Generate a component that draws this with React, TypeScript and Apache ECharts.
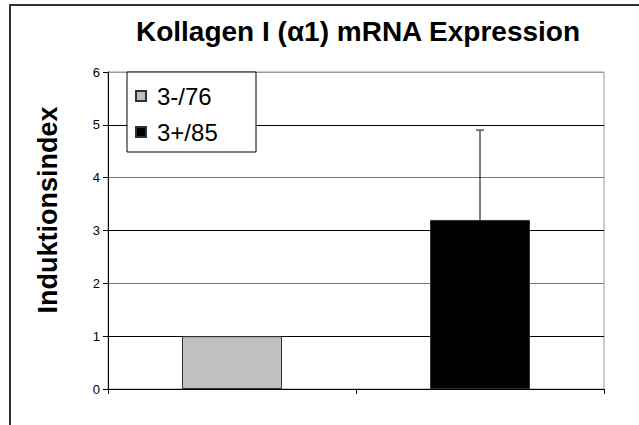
import React, { useEffect, useRef } from "react";
import * as echarts from "echarts";

const categories = ["3-/76", "3+/85"];
const seriesNames = ["3-/76", "3+/85"];
const values = [1.0, 3.2];
const errorsUp = [0, 1.7];
const yTicks = { min: 0, max: 6, interval: 1 };
const titleText = "Kollagen I (α1) mRNA Expression";
const yName = "Induktionsindex";

const FONT = "'Liberation Sans', Arial, sans-serif";

export default function App() {
  const ref = useRef<HTMLDivElement>(null);
  useEffect(() => {
    if (!ref.current) return;
    const chart = echarts.init(ref.current, undefined, { renderer: "svg" });
    const colors = ["#c0c0c0", "#000000"];
    const barSeries = seriesNames.map((name, i) => ({
      name,
      type: "bar",
      stack: "s",
      barWidth: 100,
      data: values.map((v, j) => (j === i ? v : "-")),
      itemStyle: { color: colors[i], borderColor: "#333", borderWidth: 1 },
      z: 3,
    }));
    const errSeries = {
      type: "custom",
      name: "err",
      z: 4,
      data: values.map((v, j) => [j, v, v + errorsUp[j]]),
      renderItem: (params: any, api: any) => {
        const j = api.value(0);
        if (errorsUp[j] <= 0) return null;
        const p0 = api.coord([j, api.value(1)]);
        const p1 = api.coord([j, api.value(2)]);
        return {
          type: "group",
          children: [
            {
              type: "line",
              shape: { x1: p0[0], y1: p0[1], x2: p1[0], y2: p1[1] },
              style: { stroke: "#000", lineWidth: 1 },
            },
            {
              type: "line",
              shape: { x1: p1[0] - 4, y1: p1[1], x2: p1[0] + 4, y2: p1[1] },
              style: { stroke: "#555", lineWidth: 1.5 },
            },
          ],
        };
      },
    };
    chart.setOption({
      animation: false,
      backgroundColor: "#fff",
      textStyle: { fontFamily: FONT },
      grid: { left: 108, right: 35, top: 72, bottom: 36, show: true, borderColor: "#999", borderWidth: 1, backgroundColor: "transparent" },
      legend: {
        orient: "vertical",
        left: 135,
        top: 84,
        padding: 0,
        z: 10,
        itemWidth: 10,
        itemHeight: 10,
        itemGap: 12,
        icon: "rect",
        data: seriesNames,
        textStyle: { fontSize: 24, color: "#000", lineHeight: 24, fontFamily: FONT, padding: [0, 0, 0, 6] },
      },
      graphic: [
        {
          type: "rect",
          shape: { x: 10, y: 5, width: 700, height: 500 },
          style: { fill: "none", stroke: "#333", lineWidth: 2 },
          z: 100,
        },
        {
          type: "rect",
          shape: { x: 127, y: 72, width: 129, height: 80 },
          style: { fill: "#fff", stroke: "#000", lineWidth: 1 },
          z: 5,
        },
        {
          type: "text",
          x: 358,
          y: 31,
          style: {
            text: titleText,
            font: `bold 28px ${FONT}`,
            fill: "#000",
            textAlign: "center",
            textVerticalAlign: "middle",
          },
          z: 10,
        },
        {
          type: "text",
          x: 48,
          y: 210,
          rotation: Math.PI / 2,
          style: {
            text: yName,
            font: `bold 27px ${FONT}`,
            fill: "#000",
            textAlign: "center",
            textVerticalAlign: "middle",
          },
          z: 10,
        },
      ],
      xAxis: {
        type: "category",
        data: categories,
        boundaryGap: true,
        axisLine: { show: true, lineStyle: { color: "#000", width: 1 } },
        axisTick: { show: true, length: 5, lineStyle: { color: "#000" } },
        axisLabel: { show: false },
        splitLine: { show: false },
      },
      yAxis: {
        type: "value",
        min: yTicks.min,
        max: yTicks.max,
        interval: yTicks.interval,
        axisLine: { show: true, lineStyle: { color: "#000", width: 1 } },
        axisTick: { show: true, length: 5, lineStyle: { color: "#000" } },
        axisLabel: { fontSize: 13, color: "#000", margin: 8, fontFamily: FONT },
        splitLine: {
          show: true,
          lineStyle: { color: ["#000", "#000", "#777", "#000", "#777", "#000", "#999"], width: 1 },
        },
      },
      series: [...barSeries, errSeries],
    } as any);
    return () => chart.dispose();
  }, []);
  return (
    <div
      ref={ref}
      style={{ position: "fixed", left: 0, top: 0, width: 639, height: 425, background: "#fff" }}
    />
  );
}
